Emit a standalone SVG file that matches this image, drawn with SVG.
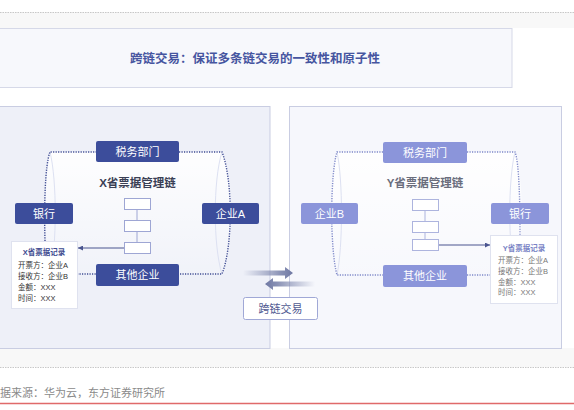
<svg xmlns="http://www.w3.org/2000/svg" width="574" height="410" viewBox="0 0 574 410">
<defs>
<style>
text{font-family:"Liberation Sans","Noto Sans CJK SC",sans-serif}
.nl{fill:#3c4d9b}
.nr{fill:#8b95da}
.nt{fill:#fff;font-size:11px;text-anchor:middle;dominant-baseline:central}
.ct{font-size:11.5px;font-weight:bold;text-anchor:middle;dominant-baseline:central}
.blkL{fill:#fff;stroke:#9ea6d4;stroke-width:1}
.blkR{fill:#fff;stroke:#adb4de;stroke-width:1}
.dotL{fill:none;stroke:#3f4c93;stroke-width:1.4;stroke-dasharray:1.2 1.3}
.dotR{fill:none;stroke:#7f89c9;stroke-width:1.4;stroke-dasharray:1.2 1.3}
.faint{fill:none;stroke:#dde1f2;stroke-width:1}
.rec{fill:#fff;stroke:#dfe2ef;stroke-width:1}
.rt{font-size:7.5px;dominant-baseline:central}
</style>
<linearGradient id="cyl" x1="0" y1="0" x2="0" y2="1">
<stop offset="0" stop-color="#fff" stop-opacity="0.95"/>
<stop offset="1" stop-color="#fff" stop-opacity="0.15"/>
</linearGradient>
<linearGradient id="arR" x1="243" y1="0" x2="293" y2="0" gradientUnits="userSpaceOnUse">
<stop offset="0" stop-color="#7d86ad" stop-opacity="0"/>
<stop offset="0.75" stop-color="#7d86ad" stop-opacity="0.9"/>
<stop offset="1" stop-color="#6f78a3"/>
</linearGradient>
<linearGradient id="arL" x1="265" y1="0" x2="315" y2="0" gradientUnits="userSpaceOnUse">
<stop offset="0" stop-color="#6f78a3"/>
<stop offset="0.25" stop-color="#7d86ad" stop-opacity="0.9"/>
<stop offset="1" stop-color="#7d86ad" stop-opacity="0"/>
</linearGradient>
<marker id="ah" viewBox="0 0 6 6" refX="6" refY="3" markerWidth="5" markerHeight="5" orient="auto-start-reverse" markerUnits="userSpaceOnUse">
<path d="M0,0 L6,3 L0,6 Z" fill="#4a558f"/>
</marker>
</defs>

<!-- background bands -->
<rect x="0" y="0" width="574" height="410" fill="#fff"/>
<rect x="0" y="12" width="574" height="16" fill="#f8f8f8"/>
<line x1="0" y1="12.5" x2="574" y2="12.5" stroke="#c8c8c8" stroke-width="1" stroke-dasharray="1.5 1"/>
<rect x="0" y="348" width="574" height="19" fill="#f8f8f8"/>
<line x1="0" y1="367.5" x2="574" y2="367.5" stroke="#c8c8c8" stroke-width="1" stroke-dasharray="1.5 1"/>

<!-- title box -->
<g id="title">
<rect x="-2" y="28.5" width="514" height="59" fill="#f7f8fc" stroke="#d6d9e8"/>
<text x="255" y="59" font-size="12.5" font-weight="bold" fill="#4655a0" text-anchor="middle" dominant-baseline="central">跨链交易：保证多条链交易的一致性和原子性</text>
</g>

<!-- panels -->
<g id="panelX">
<rect x="-2" y="106.5" width="272" height="242" fill="#eef0f8" stroke="#c9cde2"/>
<path d="M50,152 L222,152 C234,180 234,246 222,274 L50,274 C44,240 44,186 50,152 Z" fill="url(#cyl)"/>
<path class="faint" d="M50,152 C57,180 57,246 50,274"/>
<path class="faint" d="M222,152 C213,180 213,246 222,274"/>
</g>
<g id="panelY">
<rect x="289.5" y="106.5" width="272" height="242" fill="#f6f7fc" stroke="#c9cde2"/>
<path d="M337,152 L515,152 C524,180 524,246 515,275 L337,275 C330,246 330,180 337,152 Z" fill="url(#cyl)"/>
<path class="faint" d="M337,152 C343,180 343,246 337,275"/>
<path class="faint" d="M515,152 C508,180 508,246 515,275"/>
</g>

<!-- connectors -->
<g id="connectors">
<path class="dotL" d="M45,241 C44,205 45,165 50,152 L96,152"/>
<path class="dotL" d="M179,152 L222,152 C233,180 233,246 222,274 L179,274"/>
<path class="dotL" d="M77,274 L96,274"/>
<path class="dotR" d="M383,152 L337,152 C330,175 330,250 337,275 L383,275"/>
<path class="dotR" d="M467,152 L515,152 C519,162 520,200 520,235"/>
<path class="dotR" d="M467,275 L490,275"/>
<line x1="137" y1="209" x2="137" y2="220" stroke="#9ea6d4"/>
<line x1="137" y1="231" x2="137" y2="242" stroke="#9ea6d4"/>
<line x1="425" y1="211" x2="425" y2="221" stroke="#adb4de"/>
<line x1="425" y1="233" x2="425" y2="239" stroke="#adb4de"/>
<line x1="124" y1="248" x2="78" y2="248" stroke="#4a558f" stroke-width="1" marker-end="url(#ah)"/>
<line x1="438" y1="245" x2="490" y2="245" stroke="#4a558f" stroke-width="1" marker-end="url(#ah)"/>
<path d="M243,270.5 L285,270.5 L285,267 L293,273 L285,279 L285,275.5 L243,275.5 Z" fill="url(#arR)"/>
<path d="M315,281.5 L273,281.5 L273,278 L265,284 L273,290 L273,286.5 L315,286.5 Z" fill="url(#arL)"/>
</g>

<!-- left chain nodes -->
<g id="x-tax"><rect class="nl" x="96" y="141" width="83" height="21" rx="2"/><text class="nt" x="137.5" y="151.5">税务部门</text></g>
<g id="x-bank"><rect class="nl" x="15" y="203" width="58" height="21" rx="2"/><text class="nt" x="44" y="213.5">银行</text></g>
<g id="x-entA"><rect class="nl" x="202" y="203" width="57" height="21" rx="2"/><text class="nt" x="230.5" y="213.5">企业A</text></g>
<g id="x-other"><rect class="nl" x="96" y="264" width="83" height="22" rx="2"/><text class="nt" x="137.5" y="275">其他企业</text></g>
<g id="x-chain">
<text class="ct" x="137.5" y="183" fill="#3a3f55">X省票据管理链</text>
<rect class="blkL" x="124.5" y="198.5" width="26" height="11"/>
<rect class="blkL" x="124.5" y="220.5" width="26" height="11"/>
<rect class="blkL" x="124.5" y="242.5" width="26" height="11"/>
</g>
<g id="x-record">
<rect class="rec" x="11.5" y="241.5" width="66" height="67"/>
<text class="rt" x="44" y="252" text-anchor="middle" font-weight="bold" fill="#3d4a8f">X省票据记录</text>
<text class="rt" x="18" y="265" fill="#333">开票方：企业A</text>
<text class="rt" x="18" y="276" fill="#333">接收方：企业B</text>
<text class="rt" x="18" y="287" fill="#333">金额：XXX</text>
<text class="rt" x="18" y="298" fill="#333">时间：XXX</text>
</g>

<!-- right chain nodes -->
<g id="y-tax"><rect class="nr" x="383" y="142" width="84" height="21" rx="2"/><text class="nt" x="425" y="152.5">税务部门</text></g>
<g id="y-entB"><rect class="nr" x="301" y="203" width="57" height="21" rx="2"/><text class="nt" x="329.5" y="213.5">企业B</text></g>
<g id="y-bank"><rect class="nr" x="491" y="203" width="58" height="21" rx="2"/><text class="nt" x="520" y="213.5">银行</text></g>
<g id="y-other"><rect class="nr" x="383" y="265" width="84" height="22" rx="2"/><text class="nt" x="425" y="276">其他企业</text></g>
<g id="y-chain">
<text class="ct" x="425" y="183" fill="#6a6d7c">Y省票据管理链</text>
<rect class="blkR" x="412.5" y="199.5" width="26" height="11"/>
<rect class="blkR" x="412.5" y="221.5" width="26" height="11"/>
<rect class="blkR" x="412.5" y="239.5" width="26" height="11"/>
</g>
<g id="y-record">
<rect class="rec" x="490.5" y="235.5" width="67" height="68"/>
<text class="rt" x="524" y="248" text-anchor="middle" font-weight="bold" fill="#7983c5">Y省票据记录</text>
<text class="rt" x="498" y="260" fill="#777">开票方：企业A</text>
<text class="rt" x="498" y="271" fill="#777">接收方：企业B</text>
<text class="rt" x="498" y="282" fill="#777">金额：XXX</text>
<text class="rt" x="498" y="292" fill="#777">时间：XXX</text>
</g>

<!-- cross-chain label -->
<g id="cross">
<rect x="243.5" y="297.5" width="74" height="22" rx="2" fill="#fff" stroke="#a0a8d6"/>
<text x="280.5" y="308.5" font-size="11" fill="#515b92" text-anchor="middle" dominant-baseline="central">跨链交易</text>
</g>

<!-- footer -->
<text x="0" y="397" font-size="11" fill="#8a8a8a">据来源：华为云，东方证券研究所</text>
<line x1="0" y1="403.5" x2="574" y2="403.5" stroke="#e06a6a" stroke-width="1.5"/>
</svg>
